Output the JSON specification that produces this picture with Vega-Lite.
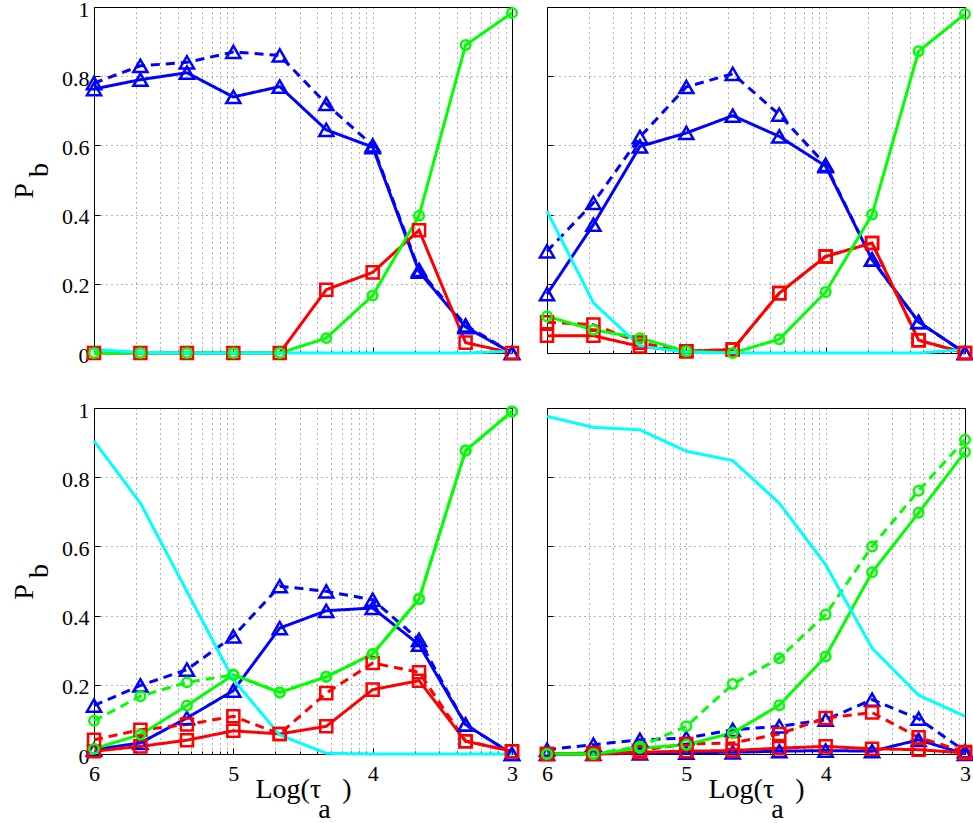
{
"$schema": "https://vega.github.io/schema/vega-lite/v6.json",
"padding": {"left": 10, "top": -3, "right": 0, "bottom": 0},
"config": {
  "font": "Liberation Serif",
  "view": {"stroke": "#000", "strokeWidth": 1},
  "axis": {
    "labelFont": "Liberation Serif", "labelFontSize": 22, "labelColor": "#000",
    "titleFont": "Liberation Serif", "titleFontSize": 28, "titleFontWeight": "normal", "titleColor": "#000",
    "domain": false, "grid": true, "gridColor": "#000", "gridDash": [1, 4], "gridOpacity": 0.6, "gridWidth": 1,
    "tickColor": "#000", "tickWidth": 1, "minExtent": 0
  },
  "line": {"strokeWidth": 3},
  "point": {"filled": false, "strokeWidth": 2.5, "opacity": 1}
},
"data": {"values": [
{"p":"a","s":"A","r":"solid","x":6,"y":0.763},{"p":"a","s":"A","r":"solid","x":5.667,"y":0.79},{"p":"a","s":"A","r":"solid","x":5.333,"y":0.81},{"p":"a","s":"A","r":"solid","x":5,"y":0.74},{"p":"a","s":"A","r":"solid","x":4.667,"y":0.77},{"p":"a","s":"A","r":"solid","x":4.333,"y":0.645},{"p":"a","s":"A","r":"solid","x":4,"y":0.595},{"p":"a","s":"A","r":"solid","x":3.667,"y":0.235},{"p":"a","s":"A","r":"solid","x":3.333,"y":0.075},{"p":"a","s":"A","r":"solid","x":3,"y":0.0},
{"p":"a","s":"A","r":"dashed","x":6,"y":0.78},{"p":"a","s":"A","r":"dashed","x":5.667,"y":0.83},{"p":"a","s":"A","r":"dashed","x":5.333,"y":0.84},{"p":"a","s":"A","r":"dashed","x":5,"y":0.87},{"p":"a","s":"A","r":"dashed","x":4.667,"y":0.86},{"p":"a","s":"A","r":"dashed","x":4.333,"y":0.72},{"p":"a","s":"A","r":"dashed","x":4,"y":0.6},{"p":"a","s":"A","r":"dashed","x":3.667,"y":0.24},{"p":"a","s":"A","r":"dashed","x":3.333,"y":0.08},{"p":"a","s":"A","r":"dashed","x":3,"y":0.0},
{"p":"a","s":"B","r":"solid","x":6,"y":0},{"p":"a","s":"B","r":"solid","x":5.667,"y":0},{"p":"a","s":"B","r":"solid","x":5.333,"y":0},{"p":"a","s":"B","r":"solid","x":5,"y":0},{"p":"a","s":"B","r":"solid","x":4.667,"y":0},{"p":"a","s":"B","r":"solid","x":4.333,"y":0.183},{"p":"a","s":"B","r":"solid","x":4,"y":0.233},{"p":"a","s":"B","r":"solid","x":3.667,"y":0.355},{"p":"a","s":"B","r":"solid","x":3.333,"y":0.03},{"p":"a","s":"B","r":"solid","x":3,"y":0},
{"p":"a","s":"C","r":"solid","x":6,"y":0},{"p":"a","s":"C","r":"solid","x":5.667,"y":0},{"p":"a","s":"C","r":"solid","x":5.333,"y":0},{"p":"a","s":"C","r":"solid","x":5,"y":0},{"p":"a","s":"C","r":"solid","x":4.667,"y":0},{"p":"a","s":"C","r":"solid","x":4.333,"y":0.043},{"p":"a","s":"C","r":"solid","x":4,"y":0.166},{"p":"a","s":"C","r":"solid","x":3.667,"y":0.397},{"p":"a","s":"C","r":"solid","x":3.333,"y":0.89},{"p":"a","s":"C","r":"solid","x":3,"y":0.983},
{"p":"a","s":"D","r":"solid","x":6,"y":0.01},{"p":"a","s":"D","r":"solid","x":5.667,"y":0.002},{"p":"a","s":"D","r":"solid","x":5.333,"y":0},{"p":"a","s":"D","r":"solid","x":5,"y":0},{"p":"a","s":"D","r":"solid","x":4.667,"y":0},{"p":"a","s":"D","r":"solid","x":4.333,"y":0},{"p":"a","s":"D","r":"solid","x":4,"y":0},{"p":"a","s":"D","r":"solid","x":3.667,"y":0},{"p":"a","s":"D","r":"solid","x":3.333,"y":0},{"p":"a","s":"D","r":"solid","x":3,"y":0.005},

{"p":"b","s":"A","r":"solid","x":6,"y":0.17},{"p":"b","s":"A","r":"solid","x":5.667,"y":0.371},{"p":"b","s":"A","r":"solid","x":5.333,"y":0.597},{"p":"b","s":"A","r":"solid","x":5,"y":0.636},{"p":"b","s":"A","r":"solid","x":4.667,"y":0.686},{"p":"b","s":"A","r":"solid","x":4.333,"y":0.626},{"p":"b","s":"A","r":"solid","x":4,"y":0.54},{"p":"b","s":"A","r":"solid","x":3.667,"y":0.27},{"p":"b","s":"A","r":"solid","x":3.333,"y":0.09},{"p":"b","s":"A","r":"solid","x":3,"y":0},
{"p":"b","s":"A","r":"dashed","x":6,"y":0.294},{"p":"b","s":"A","r":"dashed","x":5.667,"y":0.434},{"p":"b","s":"A","r":"dashed","x":5.333,"y":0.624},{"p":"b","s":"A","r":"dashed","x":5,"y":0.769},{"p":"b","s":"A","r":"dashed","x":4.667,"y":0.807},{"p":"b","s":"A","r":"dashed","x":4.333,"y":0.689},{"p":"b","s":"A","r":"dashed","x":4,"y":0.544},{"p":"b","s":"A","r":"dashed","x":3.667,"y":0.27},{"p":"b","s":"A","r":"dashed","x":3.333,"y":0.089},{"p":"b","s":"A","r":"dashed","x":3,"y":0},
{"p":"b","s":"B","r":"solid","x":6,"y":0.05},{"p":"b","s":"B","r":"solid","x":5.667,"y":0.05},{"p":"b","s":"B","r":"solid","x":5.333,"y":0.019},{"p":"b","s":"B","r":"solid","x":5,"y":0.005},{"p":"b","s":"B","r":"solid","x":4.667,"y":0.01},{"p":"b","s":"B","r":"solid","x":4.333,"y":0.173},{"p":"b","s":"B","r":"solid","x":4,"y":0.279},{"p":"b","s":"B","r":"solid","x":3.667,"y":0.318},{"p":"b","s":"B","r":"solid","x":3.333,"y":0.037},{"p":"b","s":"B","r":"solid","x":3,"y":0},
{"p":"b","s":"B","r":"dashed","x":6,"y":0.089},{"p":"b","s":"B","r":"dashed","x":5.667,"y":0.082},{"p":"b","s":"B","r":"dashed","x":5.333,"y":0.03},{"p":"b","s":"B","r":"dashed","x":5,"y":0.005},{"p":"b","s":"B","r":"dashed","x":4.667,"y":0.01},{"p":"b","s":"B","r":"dashed","x":4.333,"y":0.173},{"p":"b","s":"B","r":"dashed","x":4,"y":0.279},{"p":"b","s":"B","r":"dashed","x":3.667,"y":0.318},{"p":"b","s":"B","r":"dashed","x":3.333,"y":0.037},{"p":"b","s":"B","r":"dashed","x":3,"y":0},
{"p":"b","s":"C","r":"solid","x":6,"y":0.106},{"p":"b","s":"C","r":"solid","x":5.667,"y":0.067},{"p":"b","s":"C","r":"solid","x":5.333,"y":0.043},{"p":"b","s":"C","r":"solid","x":5,"y":0.005},{"p":"b","s":"C","r":"solid","x":4.667,"y":0},{"p":"b","s":"C","r":"solid","x":4.333,"y":0.04},{"p":"b","s":"C","r":"solid","x":4,"y":0.176},{"p":"b","s":"C","r":"solid","x":3.667,"y":0.4},{"p":"b","s":"C","r":"solid","x":3.333,"y":0.872},{"p":"b","s":"C","r":"solid","x":3,"y":0.98},
{"p":"b","s":"D","r":"solid","x":6,"y":0.41},{"p":"b","s":"D","r":"solid","x":5.667,"y":0.145},{"p":"b","s":"D","r":"solid","x":5.333,"y":0.02},{"p":"b","s":"D","r":"solid","x":5,"y":0.002},{"p":"b","s":"D","r":"solid","x":4.667,"y":0},{"p":"b","s":"D","r":"solid","x":4.333,"y":0},{"p":"b","s":"D","r":"solid","x":4,"y":0},{"p":"b","s":"D","r":"solid","x":3.667,"y":0},{"p":"b","s":"D","r":"solid","x":3.333,"y":0},{"p":"b","s":"D","r":"solid","x":3,"y":0.01},

{"p":"c","s":"A","r":"solid","x":6,"y":0.0125},{"p":"c","s":"A","r":"solid","x":5.667,"y":0.032},{"p":"c","s":"A","r":"solid","x":5.333,"y":0.104},{"p":"c","s":"A","r":"solid","x":5,"y":0.183},{"p":"c","s":"A","r":"solid","x":4.667,"y":0.364},{"p":"c","s":"A","r":"solid","x":4.333,"y":0.414},{"p":"c","s":"A","r":"solid","x":4,"y":0.422},{"p":"c","s":"A","r":"solid","x":3.667,"y":0.316},{"p":"c","s":"A","r":"solid","x":3.333,"y":0.085},{"p":"c","s":"A","r":"solid","x":3,"y":0},
{"p":"c","s":"A","r":"dashed","x":6,"y":0.14},{"p":"c","s":"A","r":"dashed","x":5.667,"y":0.198},{"p":"c","s":"A","r":"dashed","x":5.333,"y":0.244},{"p":"c","s":"A","r":"dashed","x":5,"y":0.34},{"p":"c","s":"A","r":"dashed","x":4.667,"y":0.485},{"p":"c","s":"A","r":"dashed","x":4.333,"y":0.47},{"p":"c","s":"A","r":"dashed","x":4,"y":0.446},{"p":"c","s":"A","r":"dashed","x":3.667,"y":0.33},{"p":"c","s":"A","r":"dashed","x":3.333,"y":0.085},{"p":"c","s":"A","r":"dashed","x":3,"y":0},
{"p":"c","s":"B","r":"solid","x":6,"y":0.008},{"p":"c","s":"B","r":"solid","x":5.667,"y":0.022},{"p":"c","s":"B","r":"solid","x":5.333,"y":0.04},{"p":"c","s":"B","r":"solid","x":5,"y":0.067},{"p":"c","s":"B","r":"solid","x":4.667,"y":0.058},{"p":"c","s":"B","r":"solid","x":4.333,"y":0.08},{"p":"c","s":"B","r":"solid","x":4,"y":0.186},{"p":"c","s":"B","r":"solid","x":3.667,"y":0.212},{"p":"c","s":"B","r":"solid","x":3.333,"y":0.037},{"p":"c","s":"B","r":"solid","x":3,"y":0.008},
{"p":"c","s":"B","r":"dashed","x":6,"y":0.041},{"p":"c","s":"B","r":"dashed","x":5.667,"y":0.07},{"p":"c","s":"B","r":"dashed","x":5.333,"y":0.085},{"p":"c","s":"B","r":"dashed","x":5,"y":0.109},{"p":"c","s":"B","r":"dashed","x":4.667,"y":0.058},{"p":"c","s":"B","r":"dashed","x":4.333,"y":0.176},{"p":"c","s":"B","r":"dashed","x":4,"y":0.263},{"p":"c","s":"B","r":"dashed","x":3.667,"y":0.236},{"p":"c","s":"B","r":"dashed","x":3.333,"y":0.037},{"p":"c","s":"B","r":"dashed","x":3,"y":0.008},
{"p":"c","s":"C","r":"solid","x":6,"y":0.015},{"p":"c","s":"C","r":"solid","x":5.667,"y":0.056},{"p":"c","s":"C","r":"solid","x":5.333,"y":0.14},{"p":"c","s":"C","r":"solid","x":5,"y":0.229},{"p":"c","s":"C","r":"solid","x":4.667,"y":0.178},{"p":"c","s":"C","r":"solid","x":4.333,"y":0.223},{"p":"c","s":"C","r":"solid","x":4,"y":0.289},{"p":"c","s":"C","r":"solid","x":3.667,"y":0.448},{"p":"c","s":"C","r":"solid","x":3.333,"y":0.877},{"p":"c","s":"C","r":"solid","x":3,"y":0.99},
{"p":"c","s":"C","r":"dashed","x":6,"y":0.096},{"p":"c","s":"C","r":"dashed","x":5.667,"y":0.167},{"p":"c","s":"C","r":"dashed","x":5.333,"y":0.207},{"p":"c","s":"C","r":"dashed","x":5,"y":0.229},{"p":"c","s":"C","r":"dashed","x":4.667,"y":0.178},{"p":"c","s":"C","r":"dashed","x":4.333,"y":0.223},{"p":"c","s":"C","r":"dashed","x":4,"y":0.289},{"p":"c","s":"C","r":"dashed","x":3.667,"y":0.448},{"p":"c","s":"C","r":"dashed","x":3.333,"y":0.877},{"p":"c","s":"C","r":"dashed","x":3,"y":0.99},
{"p":"c","s":"D","r":"solid","x":6,"y":0.905},{"p":"c","s":"D","r":"solid","x":5.667,"y":0.725},{"p":"c","s":"D","r":"solid","x":5.333,"y":0.47},{"p":"c","s":"D","r":"solid","x":5,"y":0.215},{"p":"c","s":"D","r":"solid","x":4.667,"y":0.055},{"p":"c","s":"D","r":"solid","x":4.333,"y":0.002},{"p":"c","s":"D","r":"solid","x":4,"y":0},{"p":"c","s":"D","r":"solid","x":3.667,"y":0},{"p":"c","s":"D","r":"solid","x":3.333,"y":0},{"p":"c","s":"D","r":"solid","x":3,"y":0},

{"p":"d","s":"A","r":"solid","x":6,"y":0},{"p":"d","s":"A","r":"solid","x":5.667,"y":0},{"p":"d","s":"A","r":"solid","x":5.333,"y":0.002},{"p":"d","s":"A","r":"solid","x":5,"y":0.004},{"p":"d","s":"A","r":"solid","x":4.667,"y":0.005},{"p":"d","s":"A","r":"solid","x":4.333,"y":0.008},{"p":"d","s":"A","r":"solid","x":4,"y":0.01},{"p":"d","s":"A","r":"solid","x":3.667,"y":0.008},{"p":"d","s":"A","r":"solid","x":3.333,"y":0.041},{"p":"d","s":"A","r":"solid","x":3,"y":0},
{"p":"d","s":"A","r":"dashed","x":6,"y":0.0125},{"p":"d","s":"A","r":"dashed","x":5.667,"y":0.027},{"p":"d","s":"A","r":"dashed","x":5.333,"y":0.041},{"p":"d","s":"A","r":"dashed","x":5,"y":0.046},{"p":"d","s":"A","r":"dashed","x":4.667,"y":0.07},{"p":"d","s":"A","r":"dashed","x":4.333,"y":0.08},{"p":"d","s":"A","r":"dashed","x":4,"y":0.099},{"p":"d","s":"A","r":"dashed","x":3.667,"y":0.157},{"p":"d","s":"A","r":"dashed","x":3.333,"y":0.102},{"p":"d","s":"A","r":"dashed","x":3,"y":0.008},
{"p":"d","s":"B","r":"solid","x":6,"y":0},{"p":"d","s":"B","r":"solid","x":5.667,"y":0},{"p":"d","s":"B","r":"solid","x":5.333,"y":0.005},{"p":"d","s":"B","r":"solid","x":5,"y":0.008},{"p":"d","s":"B","r":"solid","x":4.667,"y":0.01},{"p":"d","s":"B","r":"solid","x":4.333,"y":0.017},{"p":"d","s":"B","r":"solid","x":4,"y":0.022},{"p":"d","s":"B","r":"solid","x":3.667,"y":0.015},{"p":"d","s":"B","r":"solid","x":3.333,"y":0.0125},{"p":"d","s":"B","r":"solid","x":3,"y":0.003},
{"p":"d","s":"B","r":"dashed","x":6,"y":0},{"p":"d","s":"B","r":"dashed","x":5.667,"y":0.003},{"p":"d","s":"B","r":"dashed","x":5.333,"y":0.01},{"p":"d","s":"B","r":"dashed","x":5,"y":0.029},{"p":"d","s":"B","r":"dashed","x":4.667,"y":0.032},{"p":"d","s":"B","r":"dashed","x":4.333,"y":0.058},{"p":"d","s":"B","r":"dashed","x":4,"y":0.104},{"p":"d","s":"B","r":"dashed","x":3.667,"y":0.12},{"p":"d","s":"B","r":"dashed","x":3.333,"y":0.048},{"p":"d","s":"B","r":"dashed","x":3,"y":0.006},
{"p":"d","s":"C","r":"solid","x":6,"y":0},{"p":"d","s":"C","r":"solid","x":5.667,"y":0},{"p":"d","s":"C","r":"solid","x":5.333,"y":0.017},{"p":"d","s":"C","r":"solid","x":5,"y":0.027},{"p":"d","s":"C","r":"solid","x":4.667,"y":0.061},{"p":"d","s":"C","r":"solid","x":4.333,"y":0.141},{"p":"d","s":"C","r":"solid","x":4,"y":0.282},{"p":"d","s":"C","r":"solid","x":3.667,"y":0.525},{"p":"d","s":"C","r":"solid","x":3.333,"y":0.697},{"p":"d","s":"C","r":"solid","x":3,"y":0.873},
{"p":"d","s":"C","r":"dashed","x":6,"y":0},{"p":"d","s":"C","r":"dashed","x":5.667,"y":0},{"p":"d","s":"C","r":"dashed","x":5.333,"y":0.022},{"p":"d","s":"C","r":"dashed","x":5,"y":0.08},{"p":"d","s":"C","r":"dashed","x":4.667,"y":0.202},{"p":"d","s":"C","r":"dashed","x":4.333,"y":0.277},{"p":"d","s":"C","r":"dashed","x":4,"y":0.403},{"p":"d","s":"C","r":"dashed","x":3.667,"y":0.6},{"p":"d","s":"C","r":"dashed","x":3.333,"y":0.761},{"p":"d","s":"C","r":"dashed","x":3,"y":0.908},
{"p":"d","s":"D","r":"solid","x":6,"y":0.976},{"p":"d","s":"D","r":"solid","x":5.667,"y":0.944},{"p":"d","s":"D","r":"solid","x":5.333,"y":0.937},{"p":"d","s":"D","r":"solid","x":5,"y":0.875},{"p":"d","s":"D","r":"solid","x":4.667,"y":0.848},{"p":"d","s":"D","r":"solid","x":4.333,"y":0.725},{"p":"d","s":"D","r":"solid","x":4,"y":0.547},{"p":"d","s":"D","r":"solid","x":3.667,"y":0.306},{"p":"d","s":"D","r":"solid","x":3.333,"y":0.17},{"p":"d","s":"D","r":"solid","x":3,"y":0.109}
]},
"spacing": 31,
"vconcat": [
 {"spacing": 9, "hconcat": [
  {"width": 418, "height": 346,
   "transform": [{"filter": "datum.p == 'a'"}],
   "encoding": {
     "x": {"field": "x", "type": "quantitative", "scale": {"domain": [3, 6], "reverse": true, "nice": false, "zero": false},
           "axis": {"values": [3,3.046,3.097,3.155,3.222,3.301,3.398,3.523,3.699,4,4.046,4.097,4.155,4.222,4.301,4.398,4.523,4.699,5,5.046,5.097,5.155,5.222,5.301,5.398,5.523,5.699,6], "labels": false, "title": null,
                    "tickSize": {"condition": {"test": "abs(datum.value - round(datum.value)) < 0.001", "value": -6}, "value": -3}}},
     "y": {"field": "y", "type": "quantitative", "scale": {"domain": [0, 1], "nice": false},
           "axis": {"values": [0,0.2,0.4,0.6,0.8,1], "format": ".1~f", "tickSize": -6, "labelPadding": 11, "labelOffset": 2,
                    "title": ["P\u2800", "\u2800b"], "titleLineHeight": 15, "titlePadding": 8}}
   },
   "layer": [
     {"mark": {"type": "line"},
      "encoding": {"color": {"field": "s", "type": "nominal", "scale": {"domain": ["A","B","C","D"], "range": ["#0000ff","#ff0000","#00ff00","#00ffff"]}, "legend": null},
                   "strokeDash": {"field": "r", "type": "nominal", "scale": {"domain": ["solid","dashed"], "range": [[1,0],[9,6]]}, "legend": null}}},
     {"transform": [{"filter": "datum.s != 'D'"}],
      "mark": {"type": "point"},
      "encoding": {"color": {"field": "s", "type": "nominal", "scale": {"domain": ["A","B","C","D"], "range": ["#0000ff","#ff0000","#00ff00","#00ffff"]}, "legend": null},
                   "shape": {"field": "s", "type": "nominal", "scale": {"domain": ["A","B","C"], "range": ["triangle-up","square","circle"]}, "legend": null},
                   "size": {"field": "s", "type": "nominal", "scale": {"domain": ["A","B","C"], "range": [200, 90, 110]}, "legend": null}}}
   ]},
  {"width": 418, "height": 346,
   "transform": [{"filter": "datum.p == 'b'"}],
   "encoding": {
     "x": {"field": "x", "type": "quantitative", "scale": {"domain": [3, 6], "reverse": true, "nice": false, "zero": false},
           "axis": {"values": [3,3.046,3.097,3.155,3.222,3.301,3.398,3.523,3.699,4,4.046,4.097,4.155,4.222,4.301,4.398,4.523,4.699,5,5.046,5.097,5.155,5.222,5.301,5.398,5.523,5.699,6], "labels": false, "title": null,
                    "tickSize": {"condition": {"test": "abs(datum.value - round(datum.value)) < 0.001", "value": -6}, "value": -3}}},
     "y": {"field": "y", "type": "quantitative", "scale": {"domain": [0, 1], "nice": false},
           "axis": {"values": [0,0.2,0.4,0.6,0.8,1], "labels": false, "tickSize": -6, "title": null}}
   },
   "layer": [
     {"mark": {"type": "line"},
      "encoding": {"color": {"field": "s", "type": "nominal", "scale": {"domain": ["A","B","C","D"], "range": ["#0000ff","#ff0000","#00ff00","#00ffff"]}, "legend": null},
                   "strokeDash": {"field": "r", "type": "nominal", "scale": {"domain": ["solid","dashed"], "range": [[1,0],[9,6]]}, "legend": null}}},
     {"transform": [{"filter": "datum.s != 'D'"}],
      "mark": {"type": "point"},
      "encoding": {"color": {"field": "s", "type": "nominal", "scale": {"domain": ["A","B","C","D"], "range": ["#0000ff","#ff0000","#00ff00","#00ffff"]}, "legend": null},
                   "shape": {"field": "s", "type": "nominal", "scale": {"domain": ["A","B","C"], "range": ["triangle-up","square","circle"]}, "legend": null},
                   "size": {"field": "s", "type": "nominal", "scale": {"domain": ["A","B","C"], "range": [200, 90, 110]}, "legend": null}}}
   ]}
 ]},
 {"spacing": 9, "hconcat": [
  {"width": 418, "height": 346,
   "transform": [{"filter": "datum.p == 'c'"}],
   "encoding": {
     "x": {"field": "x", "type": "quantitative", "scale": {"domain": [3, 6], "reverse": true, "nice": false, "zero": false},
           "axis": {"values": [3,3.046,3.097,3.155,3.222,3.301,3.398,3.523,3.699,4,4.046,4.097,4.155,4.222,4.301,4.398,4.523,4.699,5,5.046,5.097,5.155,5.222,5.301,5.398,5.523,5.699,6],
                    "labelExpr": "abs(datum.value - round(datum.value)) < 0.001 ? format(datum.value, 'd') : ''",
                    "labelPadding": 15, "labelFlush": false,
                    "tickSize": {"condition": {"test": "abs(datum.value - round(datum.value)) < 0.001", "value": -6}, "value": -3},
                    "title": ["Log(τ\u00a0\u00a0\u00a0)", "\u2800\u2800a"], "titleLineHeight": 20, "titlePadding": -9}},
     "y": {"field": "y", "type": "quantitative", "scale": {"domain": [0, 1], "nice": false},
           "axis": {"values": [0,0.2,0.4,0.6,0.8,1], "format": ".1~f", "tickSize": -6, "labelPadding": 11, "labelOffset": 2,
                    "title": ["P\u2800", "\u2800b"], "titleLineHeight": 15, "titlePadding": 8}}
   },
   "layer": [
     {"mark": {"type": "line"},
      "encoding": {"color": {"field": "s", "type": "nominal", "scale": {"domain": ["A","B","C","D"], "range": ["#0000ff","#ff0000","#00ff00","#00ffff"]}, "legend": null},
                   "strokeDash": {"field": "r", "type": "nominal", "scale": {"domain": ["solid","dashed"], "range": [[1,0],[9,6]]}, "legend": null}}},
     {"transform": [{"filter": "datum.s != 'D'"}],
      "mark": {"type": "point"},
      "encoding": {"color": {"field": "s", "type": "nominal", "scale": {"domain": ["A","B","C","D"], "range": ["#0000ff","#ff0000","#00ff00","#00ffff"]}, "legend": null},
                   "shape": {"field": "s", "type": "nominal", "scale": {"domain": ["A","B","C"], "range": ["triangle-up","square","circle"]}, "legend": null},
                   "size": {"field": "s", "type": "nominal", "scale": {"domain": ["A","B","C"], "range": [200, 90, 110]}, "legend": null}}}
   ]},
  {"width": 418, "height": 346,
   "transform": [{"filter": "datum.p == 'd'"}],
   "encoding": {
     "x": {"field": "x", "type": "quantitative", "scale": {"domain": [3, 6], "reverse": true, "nice": false, "zero": false},
           "axis": {"values": [3,3.046,3.097,3.155,3.222,3.301,3.398,3.523,3.699,4,4.046,4.097,4.155,4.222,4.301,4.398,4.523,4.699,5,5.046,5.097,5.155,5.222,5.301,5.398,5.523,5.699,6],
                    "labelExpr": "abs(datum.value - round(datum.value)) < 0.001 ? format(datum.value, 'd') : ''",
                    "labelPadding": 15, "labelFlush": false,
                    "tickSize": {"condition": {"test": "abs(datum.value - round(datum.value)) < 0.001", "value": -6}, "value": -3},
                    "title": ["Log(τ\u00a0\u00a0\u00a0)", "\u2800\u2800a"], "titleLineHeight": 20, "titlePadding": -9}},
     "y": {"field": "y", "type": "quantitative", "scale": {"domain": [0, 1], "nice": false},
           "axis": {"values": [0,0.2,0.4,0.6,0.8,1], "labels": false, "tickSize": -6, "title": null}}
   },
   "layer": [
     {"mark": {"type": "line"},
      "encoding": {"color": {"field": "s", "type": "nominal", "scale": {"domain": ["A","B","C","D"], "range": ["#0000ff","#ff0000","#00ff00","#00ffff"]}, "legend": null},
                   "strokeDash": {"field": "r", "type": "nominal", "scale": {"domain": ["solid","dashed"], "range": [[1,0],[9,6]]}, "legend": null}}},
     {"transform": [{"filter": "datum.s != 'D'"}],
      "mark": {"type": "point"},
      "encoding": {"color": {"field": "s", "type": "nominal", "scale": {"domain": ["A","B","C","D"], "range": ["#0000ff","#ff0000","#00ff00","#00ffff"]}, "legend": null},
                   "shape": {"field": "s", "type": "nominal", "scale": {"domain": ["A","B","C"], "range": ["triangle-up","square","circle"]}, "legend": null},
                   "size": {"field": "s", "type": "nominal", "scale": {"domain": ["A","B","C"], "range": [200, 90, 110]}, "legend": null}}}
   ]}
 ]}
]
}
